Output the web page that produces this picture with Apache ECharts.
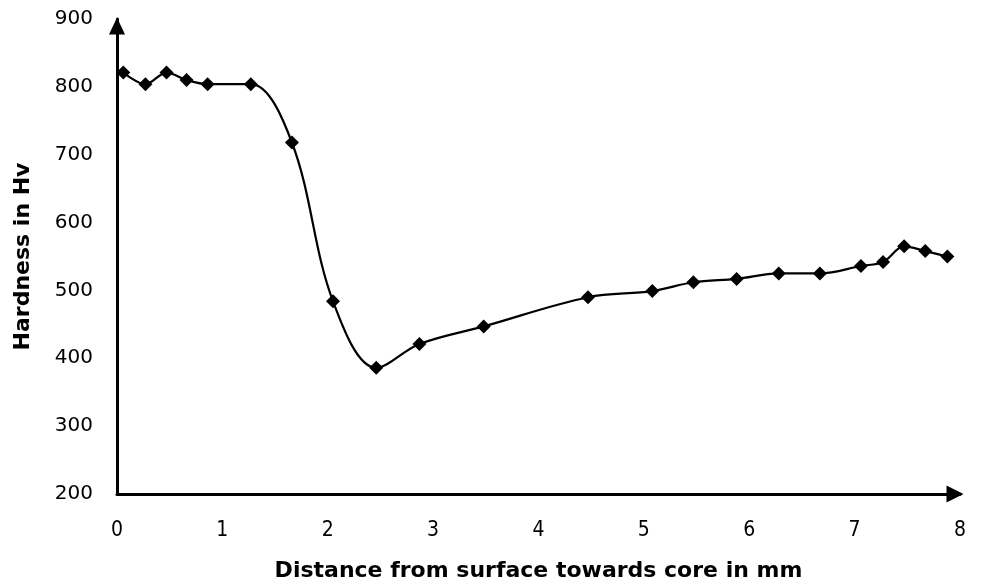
<!DOCTYPE html>
<html>
<head>
<meta charset="utf-8">
<script src="https://cdn.jsdelivr.net/npm/echarts@6/dist/echarts.min.js"></script>
<style>html,body{margin:0;padding:0;background:#fff}#c{width:983px;height:587px}</style>
</head>
<body>
<div id="c"></div>
<script>
var distance = [0.06, 0.27, 0.47, 0.66, 0.86, 1.27, 1.66, 2.05, 2.46, 2.87, 3.48, 4.47, 5.08, 5.47, 5.88, 6.28, 6.67, 7.06, 7.27, 7.47, 7.67, 7.88];
var hardness = [821, 804, 821, 810, 804, 804, 718, 484, 386, 421, 447, 490, 499, 512, 517, 525, 525, 536, 542, 565, 558, 550];
var xTitle = 'Distance from surface towards core in mm';
var yTitle = 'Hardness in Hv';

var pts = distance.map(function (d, i) { return [d, hardness[i]]; });
var chart = echarts.init(document.getElementById('c'), null, {renderer: 'canvas'});
chart.setOption({
  animation: false,
  backgroundColor: '#fff',
  grid: {left: 117, right: 23, top: 19, bottom: 93, containLabel: false},
  xAxis: {
    type: 'value', min: 0, max: 8, interval: 1,
    name: xTitle, nameLocation: 'middle', nameGap: 66,
    nameTextStyle: {fontFamily: 'DejaVu Sans', fontWeight: 'bold', fontSize: 22, color: '#000'},
    axisLine: {show: true, onZero: false, symbol: ['none', 'triangle'], symbolSize: [17, 17], symbolOffset: [0, -5], lineStyle: {color: '#000', width: 3}},
    axisTick: {show: false},
    splitLine: {show: false},
    axisLabel: {margin: 26, fontFamily: 'DejaVu Sans Condensed, DejaVu Sans', fontSize: 21, color: '#000'}
  },
  yAxis: {
    type: 'value', min: 200, max: 900, interval: 100,
    name: yTitle, nameLocation: 'middle', nameGap: 83,
    nameTextStyle: {fontFamily: 'DejaVu Sans', fontWeight: 'bold', fontSize: 22, color: '#000'},
    axisLine: {show: true, onZero: false, symbol: ['none', 'triangle'], symbolSize: [16, 17], symbolOffset: [0, -7], lineStyle: {color: '#000', width: 3}},
    axisTick: {show: false},
    splitLine: {show: false},
    axisLabel: {margin: 24, fontFamily: 'DejaVu Sans', fontSize: 20, color: '#000'}
  },
  series: [{
    type: 'line',
    data: pts,
    smooth: 0.35,
    symbol: 'diamond',
    symbolSize: 14,
    itemStyle: {color: '#000'},
    lineStyle: {color: '#000', width: 2.2}
  }]
});
</script>
</body>
</html>
